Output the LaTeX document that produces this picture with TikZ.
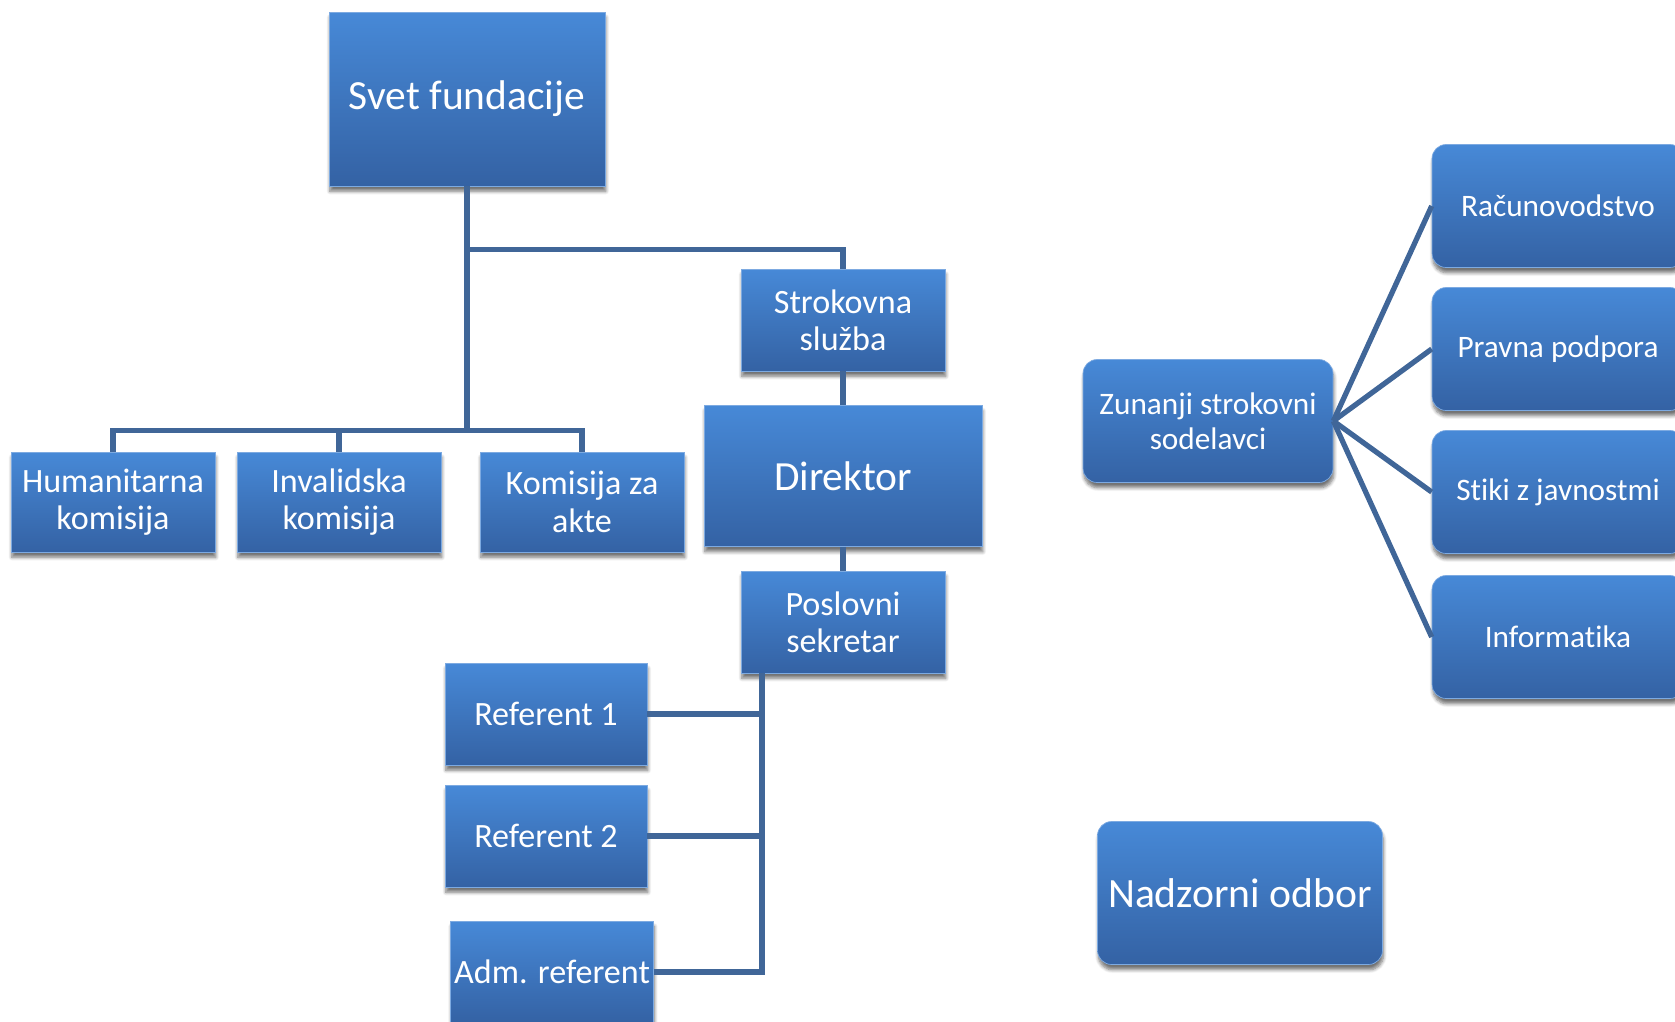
\documentclass[tikz,border=0pt]{standalone}
\usepackage{fontspec}
\setmainfont{Carlito}[RawFeature={-liga;-clig;-calt;-dlig}]
\usetikzlibrary{shadows.blur}
\definecolor{plavagor}{RGB}{71,137,215}
\definecolor{plavadol}{RGB}{52,98,164}
\definecolor{rob}{RGB}{125,170,225}
\definecolor{crta}{RGB}{64,102,152}

\begin{document}
\begin{tikzpicture}[
    x=0.02cm, y=-0.02cm,
    okvir/.style={
      draw=rob,
      top color=plavagor,
      bottom color=plavadol,
      text=white,
      align=center,
      inner sep=0pt,
      minimum width=4.08cm,
      minimum height=2.04cm,
      font=\fontsize{19.4}{21.2}\selectfont,
      blur shadow={shadow xshift=0.5pt, shadow yshift=-3pt,
                   shadow blur steps=6, shadow opacity=55}
    },
    velik/.style={okvir, font=\fontsize{23.6}{26}\selectfont},
    zaobljen/.style={
      okvir,
      rounded corners=8pt,
      font=\fontsize{17.8}{20}\selectfont,
      minimum width=5.04cm,
      minimum height=2.46cm
    },
    vez/.style={draw=crta, line width=3pt}
  ]
  \useasboundingbox (0,0) rectangle (1675,1021);

  \node[velik, minimum width=5.52cm, minimum height=3.48cm] (svet) at (467,99) {Svet fundacije};
  \node[okvir] (strok) at (843,320) {Strokovna\\služba};
  \node[velik, minimum width=5.56cm, minimum height=2.82cm] (dir) at (843,476) {Direktor};
  \node[okvir] (posl) at (843,622) {Poslovni\\sekretar};

  \node[okvir, minimum height=2cm] (hum) at (113,502) {Humanitarna\\komisija};
  \node[okvir, minimum height=2cm] (inv) at (339,502) {Invalidska\\komisija};
  \node[okvir, minimum height=2cm] (akte) at (582,502) {Komisija za\\akte};

  \node[okvir, minimum width=4.04cm] (ref1) at (546,714) {Referent 1};
  \node[okvir, minimum width=4.04cm] (ref2) at (546,836) {Referent 2};
  \node[okvir, minimum width=4.06cm] (adm) at (552,972) {Adm. referent};

  \node[zaobljen, minimum width=5cm] (zun) at (1208,421) {Zunanji strokovni\\sodelavci};
  \node[zaobljen] (rac) at (1558,206) {Računovodstvo};
  \node[zaobljen] (prav) at (1558,349) {Pravna podpora};
  \node[zaobljen] (stik) at (1558,492) {Stiki z javnostmi};
  \node[zaobljen] (info) at (1558,637) {Informatika};

  \node[zaobljen, minimum width=5.7cm, minimum height=2.86cm,
        font=\fontsize{23.7}{26}\selectfont] (nad) at (1240,893) {Nadzorni odbor};

  % povezave
  \draw[vez] (svet.south) -- ++(0,63) coordinate (razcep) -| (strok.north);
  \draw[vez] (razcep) -- ++(0,181) coordinate (letev);
  \draw[vez] (hum.north) |- (letev) -| (akte.north);
  \draw[vez] (inv.north) -- (inv.north |- letev);
  \draw[vez] (strok.south) -- (dir.north);
  \draw[vez] (dir.south) -- (posl.north);
  \draw[vez] ([xshift=-1.62cm]posl.south) coordinate (steber) |- (adm.east);
  \draw[vez] (ref1.east) -- (ref1.east -| steber);
  \draw[vez] (ref2.east) -- (ref2.east -| steber);
  \foreach \n in {rac,prav,stik,info}
    \draw[vez] (zun.east) -- (\n.west);

\end{tikzpicture}
\end{document}
